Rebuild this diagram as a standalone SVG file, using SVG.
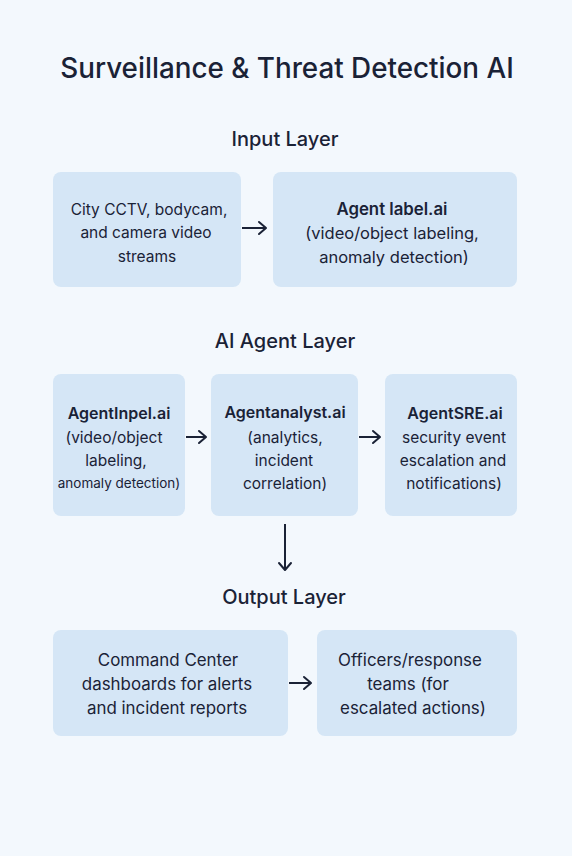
<svg xmlns="http://www.w3.org/2000/svg" width="572" height="856" viewBox="0 0 572 856">
<defs>
<style>
text{font-family:Inter,"Noto Sans","Liberation Sans",sans-serif;fill:#1a2236;text-anchor:middle}
.title{font-size:27.8px;font-weight:500}
.layer{font-size:20px;font-weight:500}
.t{font-size:15.5px}
.m{font-size:16.5px}
.o{font-size:16.9px}
.b{font-size:16px;font-weight:600}
.s{font-size:13.5px}
.box{fill:#d5e6f6}
.conn{stroke:#1a2236;stroke-width:2;fill:none}
.head{stroke:#1a2236;stroke-width:2;fill:none;stroke-linecap:round;stroke-linejoin:round}
</style>
</defs>
<rect width="572" height="856" fill="#f3f8fd"/>
<text class="title" x="287" y="78">Surveillance &amp; Threat Detection AI</text>
<text class="layer" x="285" y="146">Input Layer</text>
<text class="layer" x="285" y="348">AI Agent Layer</text>
<text class="layer" x="284" y="604">Output Layer</text>

<g id="connectors">
<path class="conn" d="M242 228H265"/><path class="head" d="M259 222L266 228L259 234"/>
<path class="conn" d="M186 437H205"/><path class="head" d="M199 431L206 437L199 443"/>
<path class="conn" d="M359 437H379"/><path class="head" d="M373 431L380 437L373 443"/>
<path class="conn" d="M285 524V569"/><path class="head" d="M279 563L285 570L291 563"/>
<path class="conn" d="M289 683H310"/><path class="head" d="M304 677L311 683L304 689"/>
</g>

<g id="streams">
<rect class="box" x="53" y="172" width="188" height="115" rx="8"/>
<text class="t" x="149" y="215">City CCTV, bodycam,</text>
<text class="t" x="146" y="238">and camera video</text>
<text class="t" x="147" y="262">streams</text>
</g>
<g id="agentlabel">
<rect class="box" x="273" y="172" width="244" height="115" rx="8"/>
<text class="b" x="392" y="215" style="font-size:16.8px">Agent label.ai</text>
<text class="m" x="392" y="239">(video/object labeling,</text>
<text class="m" x="394" y="263">anomaly detection)</text>
</g>
<g id="agentinpel">
<rect class="box" x="53" y="374" width="132" height="142" rx="8"/>
<text class="b" x="119" y="419">AgentInpel.ai</text>
<text class="t" x="114" y="443">(video/object</text>
<text class="t" x="116" y="466">labeling,</text>
<text class="s" x="119" y="488">anomaly detection)</text>
</g>
<g id="agentanalyst">
<rect class="box" x="211" y="374" width="147" height="142" rx="8"/>
<text class="b" x="285" y="418">Agentanalyst.ai</text>
<text class="t" x="285" y="443">(analytics,</text>
<text class="t" x="284" y="466">incident</text>
<text class="t" x="285" y="489">correlation)</text>
</g>
<g id="agentsre">
<rect class="box" x="385" y="374" width="132" height="142" rx="8"/>
<text class="b" x="455" y="419">AgentSRE.ai</text>
<text class="t" x="454" y="443">security event</text>
<text class="t" x="453" y="466">escalation and</text>
<text class="t" x="454" y="489">notifications)</text>
</g>
<g id="command">
<rect class="box" x="53" y="630" width="235" height="106" rx="8"/>
<text class="o" x="168" y="666">Command Center</text>
<text class="o" x="167" y="690">dashboards for alerts</text>
<text class="o" x="167" y="714">and incident reports</text>
</g>
<g id="officers">
<rect class="box" x="317" y="630" width="200" height="106" rx="8"/>
<text class="o" x="410" y="666">Officers/response</text>
<text class="o" x="408" y="690">teams (for</text>
<text class="o" x="413" y="714">escalated actions)</text>
</g>
</svg>
